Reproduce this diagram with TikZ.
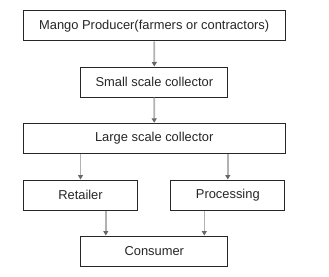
\documentclass[tikz,border=0pt]{standalone}
\usepackage{fontspec}
\setmainfont{Liberation Sans}
\usetikzlibrary{arrows.meta}
\begin{document}
\begin{tikzpicture}[x=1pt,y=-1pt,
  box/.style={draw=black!85,line width=1pt,minimum height=30pt,inner sep=0pt,font=\fontsize{12.9}{14}\selectfont,text=black!85},
  wide/.style={box,minimum width=261.7pt},
  mid/.style={box,minimum width=147.3pt},
  half/.style={box,minimum width=114.3pt},
  link/.style={draw=black!30,line width=1.6pt,-{Triangle[width=5pt,length=4.5pt,color=black!60]}}]
\useasboundingbox (0,0) rectangle (329,276);
\node[wide] (prod) at (154.2,25.9) {Mango Producer(farmers or contractors)};
\node[mid] (small) at (154.3,82) {Small scale collector};
\node[wide] (large) at (154.2,138.3) {Large scale collector};
\node[half] (ret) at (80.5,195) {Retailer};
\node[half] (proc) at (227.8,195) {Processing};
\node[mid] (cons) at (154.3,251) {Consumer};
\draw[link] (prod.south) -- (small.north);
\draw[link] (small.south) -- (large.north);
\draw[link] (ret.north |- large.south) -- (ret.north);
\draw[link] (proc.north |- large.south) -- (proc.north);
\coordinate (c1) at ([xshift=-48.5pt]cons.north);
\coordinate (c2) at ([xshift=50pt]cons.north);
\draw[link] (c1 |- ret.south) -- (c1);
\draw[link] (c2 |- proc.south) -- (c2);
\end{tikzpicture}
\end{document}
